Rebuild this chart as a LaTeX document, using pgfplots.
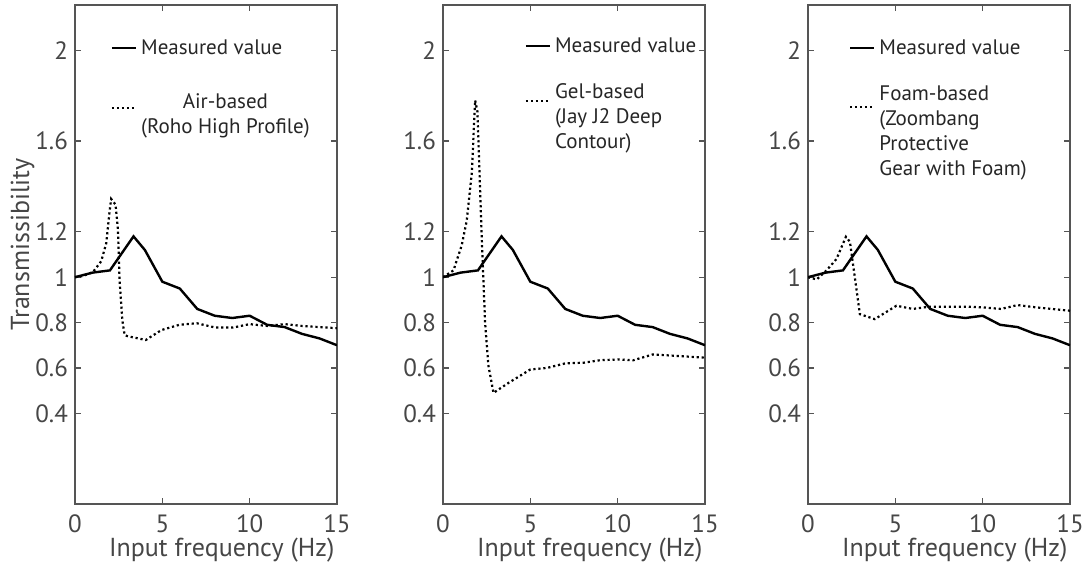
\documentclass[border=0pt]{standalone}
\usepackage{fontspec}
\setmainfont{PT Sans}
\usepackage{pgfplots}
\usepackage{pgfplotstable}
\pgfplotsset{compat=1.18}

\definecolor{axgray}{RGB}{85,85,85}
\definecolor{txtgray}{RGB}{70,70,70}

% measured transmissibility (same curve in every panel)
\pgfplotstableread{
x y
0 1.00
1 1.02
2 1.03
3.35 1.18
4 1.12
5 0.98
6 0.95
7 0.86
8 0.83
9 0.82
10 0.83
11 0.79
12 0.78
13 0.75
14 0.73
15 0.70
}\measured

\pgfplotstableread{
x y
0 1.00
0.44 1.005
1.02 1.022
1.5 1.07
1.79 1.15
1.98 1.29
2.07 1.345
2.32 1.32
2.46 1.21
2.55 0.99
2.71 0.81
2.84 0.745
3.0 0.74
4.05 0.723
4.95 0.767
5.97 0.79
6.97 0.797
8.03 0.778
9.05 0.778
10 0.793
11 0.785
12 0.793
13 0.785
15 0.775
}\airbased

\pgfplotstableread{
x y
0 1.00
0.6 1.03
1.07 1.14
1.36 1.25
1.65 1.46
1.84 1.78
1.97 1.73
2.22 1.17
2.41 0.80
2.6 0.61
2.89 0.49
3.75 0.534
5.0 0.593
5.96 0.60
7.0 0.62
8.07 0.623
9.0 0.634
10 0.637
10.9 0.634
12 0.659
12.95 0.655
15 0.645
}\gelbased

\pgfplotstableread{
x y
0 1.00
0.5 0.99
1.06 1.03
1.63 1.08
2.17 1.178
2.4 1.156
2.68 1.00
2.97 0.837
3.82 0.815
5.06 0.874
6.0 0.86
6.96 0.87
8.0 0.87
9.05 0.87
10 0.867
11.05 0.86
12 0.877
13.04 0.867
15 0.852
}\foambased

\pgfplotsset{
  panel/.style={
    scale only axis, width=131pt, height=249.5pt,
    xmin=0, xmax=15, ymin=0, ymax=2.2,
    xtick={0,5,10,15}, ytick={0.4,0.6,0.8,1,1.2,1.6,2},
    tick align=inside, major tick length=3pt,
    axis line style={axgray, line width=0.6pt},
    every tick/.style={axgray, line width=0.6pt},
    tick label style={font=\fontsize{12.5}{14}\selectfont, text=txtgray},
    xticklabel style={yshift=-2pt},
    /pgf/number format/assume math mode=true,
    xlabel={Input frequency (Hz)},
    label style={font=\fontsize{13}{15}\selectfont, text=txtgray},
    xlabel style={at={(axis description cs:0.56,0)}, anchor=center, yshift=-23pt},
    legend style={draw=none, fill=none, anchor=north west,
      font=\fontsize{10.5}{12.5}\selectfont, text=black!85,
      inner sep=0pt, column sep=1pt, nodes={inner sep=1pt}},
    legend cell align=left,
    legend image code/.code={\draw[#1] (0pt,0pt) -- (12pt,0pt);},
  },
  meas/.style={black, line width=1.2pt},
  dots/.style={black, line width=1.1pt, dash pattern=on 1.1pt off 1.4pt},
}

\begin{document}
\begin{tikzpicture}
\useasboundingbox (0pt,0pt) rectangle (544pt,284pt);

\begin{axis}[panel, at={(37.5pt,32pt)}, anchor=south west,
    ylabel={Transmissibility},
    ylabel style={at={(axis description cs:-0.2,0.52)}, anchor=center},
    legend style={at={(0.135,0.936)}, row sep=15pt}]
\addplot[meas] table {\measured};
\addlegendentry{Measured value}
\addplot[dots] table {\airbased};
\addlegendentry{\begin{tabular}{@{}c@{}}Air-based\\(Roho High Profile)\end{tabular}}
\end{axis}

\begin{axis}[panel, at={(221.5pt,32pt)}, anchor=south west,
    legend style={at={(0.31,0.94)}, row sep=11pt}]
\addplot[meas] table {\measured};
\addlegendentry{Measured value}
\addplot[dots, legend image post style={yshift=1.6pt}] table {\gelbased};
\addlegendentry{\begin{tabular}{@{}l@{}}Gel-based\\(Jay J2 Deep\\Contour)\end{tabular}}
\end{axis}

\begin{axis}[panel, at={(404pt,32pt)}, anchor=south west,
    legend style={at={(0.155,0.936)}, row sep=11pt}]
\addplot[meas] table {\measured};
\addlegendentry{Measured value}
\addplot[dots, legend image post style={yshift=2.5pt}] table {\foambased};
\addlegendentry{\begin{tabular}{@{}l@{}}Foam-based\\(Zoombang\\Protective\\Gear with Foam)\end{tabular}}
\end{axis}
\end{tikzpicture}
\end{document}
